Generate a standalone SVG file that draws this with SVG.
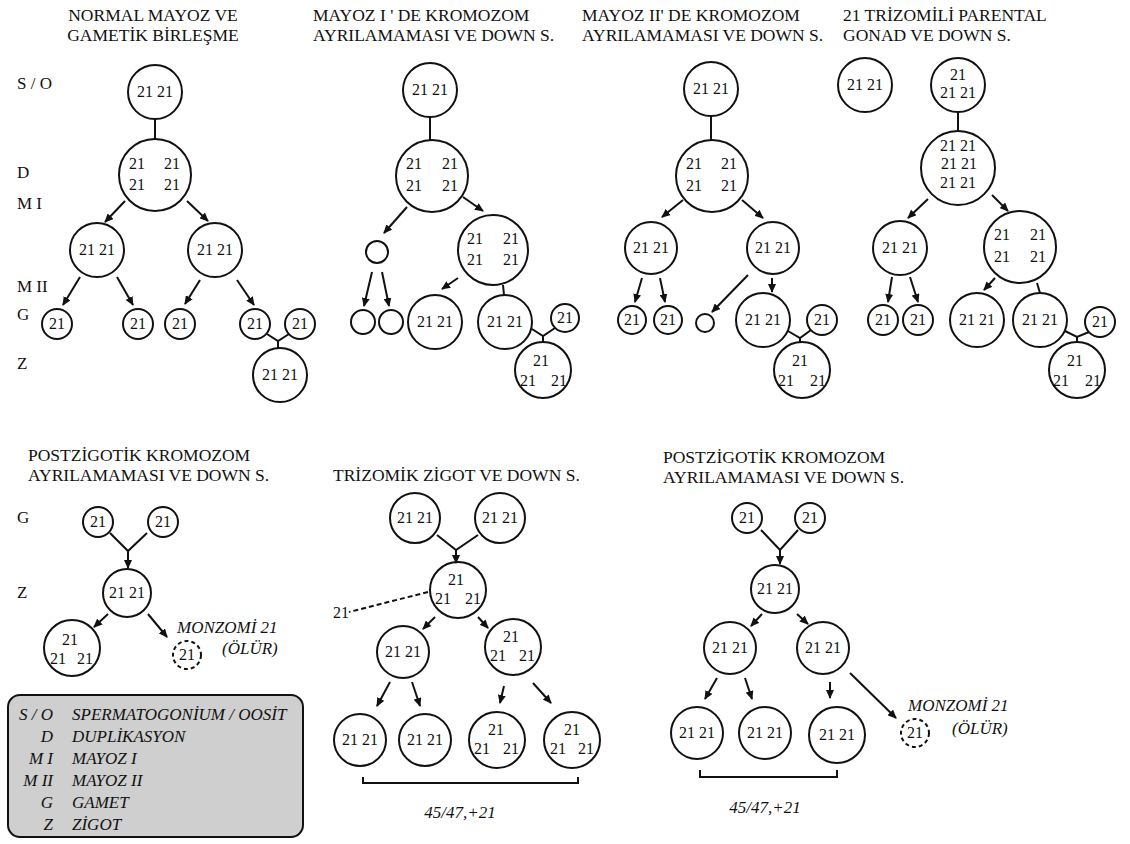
<svg xmlns="http://www.w3.org/2000/svg" width="1130" height="844" viewBox="0 0 1130 844">
<style>
  .bg { fill: #ffffff; }
  circle { fill: none; stroke: #111; stroke-width: 2; }
  circle.dash { stroke-dasharray: 4 3; }
  .t { font-family: "Liberation Serif", "Times New Roman", serif; font-size: 16px; fill: #111; text-anchor: middle; }
  .ttl { font-family: "Liberation Serif", "Times New Roman", serif; font-size: 17.5px; fill: #111; }
  .lbl { font-family: "Liberation Serif", "Times New Roman", serif; font-size: 17px; fill: #111; }
  .it { font-family: "Liberation Serif", "Times New Roman", serif; font-size: 17px; font-style: italic; fill: #111; }
  .ln { stroke: #111; stroke-width: 2; fill: none; }
  .ar { stroke: #111; stroke-width: 2; fill: none; marker-end: url(#arr); }
  .dl { stroke: #111; stroke-width: 2; fill: none; stroke-dasharray: 5 3; }
  .legend { fill: #cfcfcf; stroke: #111; stroke-width: 2; }
</style>
<defs>
  <marker id="arr" markerUnits="userSpaceOnUse" markerWidth="9" markerHeight="8" refX="8" refY="4" orient="auto">
    <path d="M0,0 L9,4 L0,8 z" fill="#111"/>
  </marker>
</defs>
<rect class="bg" x="0" y="0" width="1130" height="844"/>

<!-- panel titles -->
<g id="titles">
  <text class="ttl" x="153" y="21" text-anchor="middle">NORMAL MAYOZ VE</text>
  <text class="ttl" x="153" y="41" text-anchor="middle">GAMETİK BİRLEŞME</text>
  <text class="ttl" x="313" y="21">MAYOZ  I ' DE KROMOZOM</text>
  <text class="ttl" x="313" y="41">AYRILAMAMASI VE DOWN S.</text>
  <text class="ttl" x="582" y="21">MAYOZ  II' DE KROMOZOM</text>
  <text class="ttl" x="582" y="41">AYRILAMAMASI VE DOWN S.</text>
  <text class="ttl" x="843" y="21">21  TRİZOMİLİ PARENTAL</text>
  <text class="ttl" x="843" y="41">GONAD VE DOWN S.</text>
  <text class="ttl" x="28" y="461">POSTZİGOTİK KROMOZOM</text>
  <text class="ttl" x="28" y="481">AYRILAMAMASI VE DOWN S.</text>
  <text class="ttl" x="333" y="481">TRİZOMİK ZİGOT VE DOWN S.</text>
  <text class="ttl" x="663" y="463">POSTZİGOTİK KROMOZOM</text>
  <text class="ttl" x="663" y="483">AYRILAMAMASI VE DOWN S.</text>
</g>

<!-- stage labels -->
<g id="stage-labels">
  <text class="lbl" x="17" y="89">S / O</text>
  <text class="lbl" x="17" y="178">D</text>
  <text class="lbl" x="17" y="209">M I</text>
  <text class="lbl" x="17" y="292">M II</text>
  <text class="lbl" x="17" y="320">G</text>
  <text class="lbl" x="17" y="369">Z</text>
  <text class="lbl" x="17" y="523">G</text>
  <text class="lbl" x="17" y="598">Z</text>
</g>

<!-- connectors -->
<g id="connectors">
  <!-- panel 1 -->
  <line class="ln" x1="155" y1="119" x2="155" y2="139"/>
  <line class="ar" x1="125" y1="201" x2="105" y2="222"/>
  <line class="ar" x1="187" y1="201" x2="208" y2="221"/>
  <line class="ar" x1="80" y1="277" x2="63" y2="305"/>
  <line class="ar" x1="117" y1="277" x2="133" y2="305"/>
  <line class="ar" x1="200" y1="280" x2="185" y2="304"/>
  <line class="ar" x1="237" y1="280" x2="254" y2="305"/>
  <polyline class="ln" points="267,334 278,341 289,334"/>
  <line class="ln" x1="278" y1="341" x2="278" y2="348"/>
  <!-- panel 2 -->
  <line class="ln" x1="430" y1="117" x2="430" y2="140"/>
  <line class="ar" x1="407" y1="207" x2="384" y2="233"/>
  <line class="ar" x1="463" y1="197" x2="483" y2="211"/>
  <line class="ar" x1="372" y1="272" x2="364" y2="306"/>
  <line class="ar" x1="382" y1="272" x2="389" y2="306"/>
  <line class="ar" x1="458" y1="278" x2="442" y2="289"/>
  <line class="ln" x1="503" y1="285" x2="504" y2="295"/>
  <polyline class="ln" points="532,329 543,336 555,328"/>
  <line class="ln" x1="543" y1="336" x2="543" y2="342"/>
  <!-- panel 3 -->
  <line class="ln" x1="711" y1="116" x2="711" y2="140"/>
  <line class="ar" x1="683" y1="200" x2="662" y2="217"/>
  <line class="ar" x1="742" y1="200" x2="763" y2="218"/>
  <line class="ar" x1="642" y1="278" x2="635" y2="302"/>
  <line class="ar" x1="660" y1="278" x2="665" y2="302"/>
  <line class="ar" x1="748" y1="275" x2="712" y2="312"/>
  <line class="ar" x1="772" y1="278" x2="772" y2="292"/>
  <polyline class="ln" points="788,331 800,338 811,330"/>
  <line class="ln" x1="800" y1="338" x2="800" y2="342"/>
  <!-- panel 4 -->
  <line class="ln" x1="958" y1="112" x2="958" y2="131"/>
  <line class="ar" x1="928" y1="199" x2="908" y2="218"/>
  <line class="ar" x1="992" y1="195" x2="1008" y2="211"/>
  <line class="ar" x1="892" y1="277" x2="888" y2="302"/>
  <line class="ar" x1="910" y1="277" x2="918" y2="302"/>
  <line class="ar" x1="995" y1="278" x2="984" y2="290"/>
  <line class="ln" x1="1037" y1="283" x2="1040" y2="293"/>
  <polyline class="ln" points="1065,331 1077,337 1089,332"/>
  <line class="ln" x1="1077" y1="337" x2="1077" y2="342"/>
  <!-- panel 5 -->
  <polyline class="ln" points="110,533 128,551 147,533"/>
  <line class="ar" x1="128" y1="551" x2="128" y2="568"/>
  <line class="ar" x1="108" y1="614" x2="94" y2="627"/>
  <line class="ar" x1="148" y1="614" x2="167" y2="637"/>
  <!-- panel 6 -->
  <polyline class="ln" points="437,535 456,550 478,535"/>
  <line class="ar" x1="456" y1="550" x2="456" y2="563"/>
  <line class="dl" x1="428" y1="592" x2="349" y2="612"/>
  <line class="ar" x1="435" y1="617" x2="423" y2="629"/>
  <line class="ar" x1="478" y1="617" x2="488" y2="628"/>
  <line class="ar" x1="390" y1="682" x2="377" y2="706"/>
  <line class="ar" x1="412" y1="682" x2="420" y2="706"/>
  <line class="ar" x1="504" y1="686" x2="500" y2="703"/>
  <line class="ar" x1="533" y1="683" x2="551" y2="703"/>
  <polyline class="ln" points="363,777 363,783 578,783 578,777"/>
  <!-- panel 7 -->
  <polyline class="ln" points="761,530 780,550 798,530"/>
  <line class="ar" x1="780" y1="550" x2="780" y2="564"/>
  <line class="ar" x1="762" y1="614" x2="751" y2="626"/>
  <line class="ar" x1="797" y1="614" x2="808" y2="624"/>
  <line class="ar" x1="717" y1="678" x2="705" y2="699"/>
  <line class="ar" x1="745" y1="678" x2="752" y2="699"/>
  <line class="ar" x1="830" y1="682" x2="830" y2="698"/>
  <line class="ar" x1="850" y1="673" x2="896" y2="718"/>
  <polyline class="ln" points="700,770 700,777 837,777 837,770"/>
</g>

<!-- panel 1: normal meiosis -->
<g id="p1-so"><circle cx="155" cy="92" r="27"/><text class="t" x="155" y="97">21 21</text></g>
<g id="p1-d"><circle cx="155" cy="175" r="36"/>
  <text class="t" x="137" y="169">21</text><text class="t" x="172" y="169">21</text>
  <text class="t" x="137" y="190">21</text><text class="t" x="172" y="190">21</text></g>
<g id="p1-m1a"><circle cx="97" cy="250" r="27"/><text class="t" x="97" y="255">21  21</text></g>
<g id="p1-m1b"><circle cx="215" cy="250" r="27"/><text class="t" x="215" y="255">21  21</text></g>
<g id="p1-g1"><circle cx="57" cy="324" r="15"/><text class="t" x="57" y="329">21</text></g>
<g id="p1-g2"><circle cx="138" cy="324" r="15"/><text class="t" x="138" y="329">21</text></g>
<g id="p1-g3"><circle cx="180" cy="324" r="15"/><text class="t" x="180" y="329">21</text></g>
<g id="p1-g4"><circle cx="255" cy="324" r="15"/><text class="t" x="255" y="329">21</text></g>
<g id="p1-g5"><circle cx="300" cy="324" r="15"/><text class="t" x="300" y="329">21</text></g>
<g id="p1-z"><circle cx="280" cy="375" r="27"/><text class="t" x="280" y="380">21 21</text></g>

<!-- panel 2: nondisjunction in meiosis I -->
<g id="p2-so"><circle cx="430" cy="90" r="27"/><text class="t" x="430" y="95">21 21</text></g>
<g id="p2-d"><circle cx="432" cy="176" r="36"/>
  <text class="t" x="414" y="169">21</text><text class="t" x="450" y="169">21</text>
  <text class="t" x="414" y="191">21</text><text class="t" x="450" y="191">21</text></g>
<g id="p2-m1a"><circle cx="377" cy="252" r="11"/></g>
<g id="p2-m1b"><circle cx="493" cy="250" r="35"/>
  <text class="t" x="475" y="244">21</text><text class="t" x="511" y="244">21</text>
  <text class="t" x="475" y="265">21</text><text class="t" x="511" y="265">21</text></g>
<g id="p2-g1"><circle cx="363" cy="322" r="12"/></g>
<g id="p2-g2"><circle cx="391" cy="322" r="12"/></g>
<g id="p2-g3"><circle cx="435" cy="322" r="27"/><text class="t" x="435" y="327">21 21</text></g>
<g id="p2-g4"><circle cx="505" cy="322" r="27"/><text class="t" x="505" y="327">21 21</text></g>
<g id="p2-g5"><circle cx="565" cy="318" r="14"/><text class="t" x="565" y="323">21</text></g>
<g id="p2-z"><circle cx="543" cy="370" r="28"/>
  <text class="t" x="541" y="366">21</text>
  <text class="t" x="528" y="386">21</text><text class="t" x="559" y="386">21</text></g>

<!-- panel 3: nondisjunction in meiosis II -->
<g id="p3-so"><circle cx="711" cy="89" r="27"/><text class="t" x="711" y="94">21 21</text></g>
<g id="p3-d"><circle cx="712" cy="176" r="36"/>
  <text class="t" x="694" y="169">21</text><text class="t" x="729" y="169">21</text>
  <text class="t" x="694" y="191">21</text><text class="t" x="729" y="191">21</text></g>
<g id="p3-m1a"><circle cx="651" cy="248" r="26"/><text class="t" x="651" y="253">21 21</text></g>
<g id="p3-m1b"><circle cx="773" cy="248" r="26"/><text class="t" x="773" y="253">21 21</text></g>
<g id="p3-g1"><circle cx="632" cy="320" r="14"/><text class="t" x="632" y="325">21</text></g>
<g id="p3-g2"><circle cx="668" cy="320" r="14"/><text class="t" x="668" y="325">21</text></g>
<g id="p3-g3"><circle cx="705" cy="323" r="9"/></g>
<g id="p3-g4"><circle cx="763" cy="320" r="27"/><text class="t" x="763" y="325">21 21</text></g>
<g id="p3-g5"><circle cx="822" cy="320" r="15"/><text class="t" x="822" y="325">21</text></g>
<g id="p3-z"><circle cx="802" cy="370" r="28"/>
  <text class="t" x="800" y="366">21</text>
  <text class="t" x="786" y="386">21</text><text class="t" x="818" y="386">21</text></g>

<!-- panel 4: trisomic parental gonad -->
<g id="p4-so1"><circle cx="865" cy="85" r="27"/><text class="t" x="865" y="90">21 21</text></g>
<g id="p4-so2"><circle cx="958" cy="85" r="27"/>
  <text class="t" x="958" y="80">21</text><text class="t" x="958" y="98">21 21</text></g>
<g id="p4-d"><circle cx="958" cy="168" r="37"/>
  <text class="t" x="958" y="151">21 21</text>
  <text class="t" x="959" y="169">21 21</text>
  <text class="t" x="958" y="188">21  21</text></g>
<g id="p4-m1a"><circle cx="900" cy="248" r="27"/><text class="t" x="900" y="253">21 21</text></g>
<g id="p4-m1b"><circle cx="1020" cy="247" r="36"/>
  <text class="t" x="1002" y="240">21</text><text class="t" x="1038" y="240">21</text>
  <text class="t" x="1002" y="262">21</text><text class="t" x="1038" y="262">21</text></g>
<g id="p4-g1"><circle cx="883" cy="320" r="15"/><text class="t" x="883" y="325">21</text></g>
<g id="p4-g2"><circle cx="918" cy="320" r="15"/><text class="t" x="918" y="325">21</text></g>
<g id="p4-g3"><circle cx="977" cy="320" r="27"/><text class="t" x="977" y="325">21 21</text></g>
<g id="p4-g4"><circle cx="1040" cy="320" r="27"/><text class="t" x="1040" y="325">21 21</text></g>
<g id="p4-g5"><circle cx="1100" cy="322" r="15"/><text class="t" x="1100" y="327">21</text></g>
<g id="p4-z"><circle cx="1077" cy="370" r="28"/>
  <text class="t" x="1075" y="366">21</text>
  <text class="t" x="1061" y="386">21</text><text class="t" x="1093" y="386">21</text></g>

<!-- panel 5: postzygotic nondisjunction -->
<g id="p5-g1"><circle cx="98" cy="522" r="15"/><text class="t" x="98" y="527">21</text></g>
<g id="p5-g2"><circle cx="163" cy="522" r="15"/><text class="t" x="163" y="527">21</text></g>
<g id="p5-z"><circle cx="127" cy="593" r="24"/><text class="t" x="127" y="598">21 21</text></g>
<g id="p5-c1"><circle cx="72" cy="648" r="28"/>
  <text class="t" x="70" y="645">21</text>
  <text class="t" x="58" y="664">21</text><text class="t" x="85" y="664">21</text></g>
<g id="p5-c2"><circle class="dash" cx="187" cy="655" r="14"/><text class="t" x="187" y="660">21</text>
  <text class="it" x="177" y="633">MONZOMİ 21</text>
  <text class="it" x="222" y="654">(ÖLÜR)</text></g>

<!-- legend -->
<g id="legend">
  <rect class="legend" x="8" y="695" width="295" height="142" rx="12" ry="12"/>
  <text class="it" x="53" y="720" text-anchor="end">S / O</text><text class="it" x="72" y="720">SPERMATOGONİUM / OOSİT</text>
  <text class="it" x="53" y="742" text-anchor="end">D</text><text class="it" x="72" y="742">DUPLİKASYON</text>
  <text class="it" x="53" y="764" text-anchor="end">M I</text><text class="it" x="72" y="764">MAYOZ  I</text>
  <text class="it" x="53" y="786" text-anchor="end">M II</text><text class="it" x="72" y="786">MAYOZ II</text>
  <text class="it" x="53" y="808" text-anchor="end">G</text><text class="it" x="72" y="808">GAMET</text>
  <text class="it" x="53" y="830" text-anchor="end">Z</text><text class="it" x="72" y="830">ZİGOT</text>
</g>

<!-- panel 6: trisomic zygote -->
<g id="p6-g1"><circle cx="415" cy="518" r="25"/><text class="t" x="415" y="523">21 21</text></g>
<g id="p6-g2"><circle cx="500" cy="518" r="25"/><text class="t" x="500" y="523">21 21</text></g>
<g id="p6-z"><circle cx="458" cy="590" r="28"/>
  <text class="t" x="456" y="585">21</text>
  <text class="t" x="443" y="604">21</text><text class="t" x="473" y="604">21</text></g>
<g id="p6-lost"><text class="t" x="341" y="618">21</text></g>
<g id="p6-c1"><circle cx="403" cy="652" r="26"/><text class="t" x="403" y="657">21 21</text></g>
<g id="p6-c2"><circle cx="513" cy="647" r="28"/>
  <text class="t" x="511" y="642">21</text>
  <text class="t" x="498" y="661">21</text><text class="t" x="527" y="661">21</text></g>
<g id="p6-d1"><circle cx="360" cy="740" r="26"/><text class="t" x="360" y="745">21 21</text></g>
<g id="p6-d2"><circle cx="425" cy="740" r="26"/><text class="t" x="425" y="745">21 21</text></g>
<g id="p6-d3"><circle cx="497" cy="740" r="28"/>
  <text class="t" x="496" y="735">21</text>
  <text class="t" x="482" y="754">21</text><text class="t" x="511" y="754">21</text></g>
<g id="p6-d4"><circle cx="572" cy="740" r="28"/>
  <text class="t" x="572" y="735">21</text>
  <text class="t" x="558" y="754">21</text><text class="t" x="586" y="754">21</text></g>
<g id="p6-karyo"><text class="it" x="460" y="818" text-anchor="middle">45/47,+21</text></g>

<!-- panel 7: postzygotic nondisjunction, mosaic -->
<g id="p7-g1"><circle cx="747" cy="518" r="15"/><text class="t" x="747" y="523">21</text></g>
<g id="p7-g2"><circle cx="810" cy="518" r="15"/><text class="t" x="810" y="523">21</text></g>
<g id="p7-z"><circle cx="775" cy="589" r="24"/><text class="t" x="775" y="594">21 21</text></g>
<g id="p7-c1"><circle cx="730" cy="648" r="26"/><text class="t" x="730" y="653">21 21</text></g>
<g id="p7-c2"><circle cx="823" cy="648" r="26"/><text class="t" x="823" y="653">21 21</text></g>
<g id="p7-d1"><circle cx="697" cy="733" r="26"/><text class="t" x="697" y="738">21 21</text></g>
<g id="p7-d2"><circle cx="765" cy="733" r="26"/><text class="t" x="765" y="738">21 21</text></g>
<g id="p7-d3"><circle cx="837" cy="735" r="28"/><text class="t" x="837" y="740">21   21</text></g>
<g id="p7-d4"><circle class="dash" cx="915" cy="733" r="14"/><text class="t" x="915" y="738">21</text>
  <text class="it" x="908" y="711">MONZOMİ 21</text>
  <text class="it" x="952" y="734">(ÖLÜR)</text></g>
<g id="p7-karyo"><text class="it" x="765" y="813" text-anchor="middle">45/47,+21</text></g>
</svg>
